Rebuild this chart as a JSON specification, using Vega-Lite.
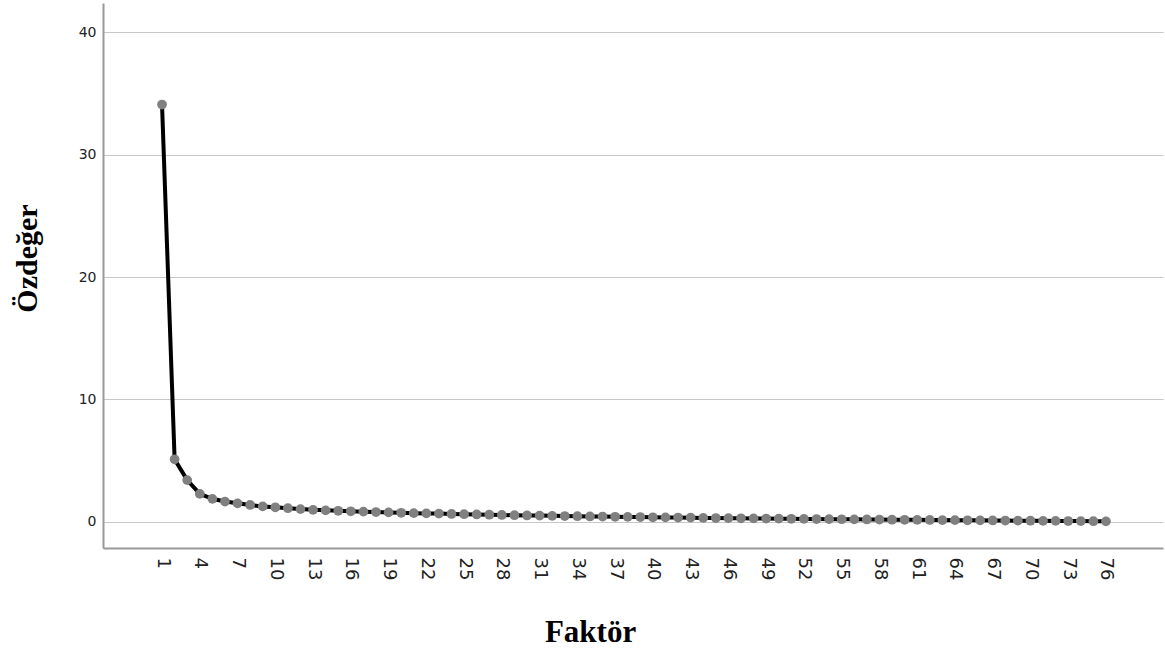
{
  "$schema": "https://vega.github.io/schema/vega-lite/v6.json",
  "width": 1060,
  "height": 545,
  "autosize": {"type": "none"},
  "padding": {"left": 103, "top": 3, "right": 2, "bottom": 104},
  "background": "white",
  "config": {"view": {"stroke": null}},
  "data": {"values": [
    {"f": 1, "v": 34.1}, {"f": 2, "v": 5.1}, {"f": 3, "v": 3.4}, {"f": 4, "v": 2.27},
    {"f": 5, "v": 1.87}, {"f": 6, "v": 1.65}, {"f": 7, "v": 1.5}, {"f": 8, "v": 1.37},
    {"f": 9, "v": 1.25}, {"f": 10, "v": 1.18}, {"f": 11, "v": 1.1}, {"f": 12, "v": 1.03},
    {"f": 13, "v": 0.97}, {"f": 14, "v": 0.93}, {"f": 15, "v": 0.89}, {"f": 16, "v": 0.85},
    {"f": 17, "v": 0.82}, {"f": 18, "v": 0.79}, {"f": 19, "v": 0.76}, {"f": 20, "v": 0.73},
    {"f": 21, "v": 0.7}, {"f": 22, "v": 0.68}, {"f": 23, "v": 0.66}, {"f": 24, "v": 0.63},
    {"f": 25, "v": 0.61}, {"f": 26, "v": 0.59}, {"f": 27, "v": 0.57}, {"f": 28, "v": 0.55},
    {"f": 29, "v": 0.53}, {"f": 30, "v": 0.51}, {"f": 31, "v": 0.5}, {"f": 32, "v": 0.48},
    {"f": 33, "v": 0.46}, {"f": 34, "v": 0.45}, {"f": 35, "v": 0.43}, {"f": 36, "v": 0.42},
    {"f": 37, "v": 0.4}, {"f": 38, "v": 0.39}, {"f": 39, "v": 0.38}, {"f": 40, "v": 0.36},
    {"f": 41, "v": 0.35}, {"f": 42, "v": 0.34}, {"f": 43, "v": 0.33}, {"f": 44, "v": 0.31},
    {"f": 45, "v": 0.3}, {"f": 46, "v": 0.29}, {"f": 47, "v": 0.28}, {"f": 48, "v": 0.27},
    {"f": 49, "v": 0.26}, {"f": 50, "v": 0.25}, {"f": 51, "v": 0.24}, {"f": 52, "v": 0.23},
    {"f": 53, "v": 0.22}, {"f": 54, "v": 0.21}, {"f": 55, "v": 0.2}, {"f": 56, "v": 0.19},
    {"f": 57, "v": 0.185}, {"f": 58, "v": 0.175}, {"f": 59, "v": 0.165}, {"f": 60, "v": 0.155},
    {"f": 61, "v": 0.15}, {"f": 62, "v": 0.14}, {"f": 63, "v": 0.13}, {"f": 64, "v": 0.125},
    {"f": 65, "v": 0.115}, {"f": 66, "v": 0.11}, {"f": 67, "v": 0.1}, {"f": 68, "v": 0.095},
    {"f": 69, "v": 0.085}, {"f": 70, "v": 0.08}, {"f": 71, "v": 0.07}, {"f": 72, "v": 0.065},
    {"f": 73, "v": 0.055}, {"f": 74, "v": 0.05}, {"f": 75, "v": 0.04}, {"f": 76, "v": 0.03}
  ]},
  "encoding": {
    "x": {
      "field": "f", "type": "quantitative",
      "scale": {"domain": [-3.69, 80.53], "nice": false, "zero": false},
      "axis": {
        "title": "Faktör",
        "values": [1,4,7,10,13,16,19,22,25,28,31,34,37,40,43,46,49,52,55,58,61,64,67,70,73,76],
        "labelAngle": 90, "labelAlign": "left", "labelBaseline": "middle",
        "labelFont": "DejaVu Sans", "labelFontSize": 18, "labelColor": "#222",
        "labelPadding": 9, "labelOverlap": false,
        "ticks": false, "grid": false,
        "domainColor": "#999", "domainWidth": 2,
        "titleFont": "Liberation Serif", "titleFontWeight": "bold", "titleFontSize": 31,
        "titleColor": "#000", "titleX": 487, "titleY": 93, "titleBaseline": "alphabetic"
      }
    },
    "y": {
      "field": "v", "type": "quantitative",
      "scale": {"domain": [-2.15, 42.4], "nice": false, "zero": false},
      "axis": {
        "title": "Özdeğer",
        "values": [0, 10, 20, 30, 40],
        "labelFont": "DejaVu Sans", "labelFontSize": 14, "labelColor": "#222",
        "labelPadding": 7,
        "ticks": false, "grid": true, "gridColor": "#c8c8c8", "gridWidth": 1.2,
        "domainColor": "#999", "domainWidth": 2,
        "titleFont": "Liberation Serif", "titleFontWeight": "bold", "titleFontSize": 30,
        "titleColor": "#000", "titleX": -67, "titleY": 255, "titleBaseline": "alphabetic",
        "titleAngle": -90
      }
    }
  },
  "layer": [
    {"mark": {"type": "line", "color": "#000", "strokeWidth": 4}},
    {"mark": {"type": "circle", "color": "#808080", "opacity": 1, "size": 95}}
  ]
}
